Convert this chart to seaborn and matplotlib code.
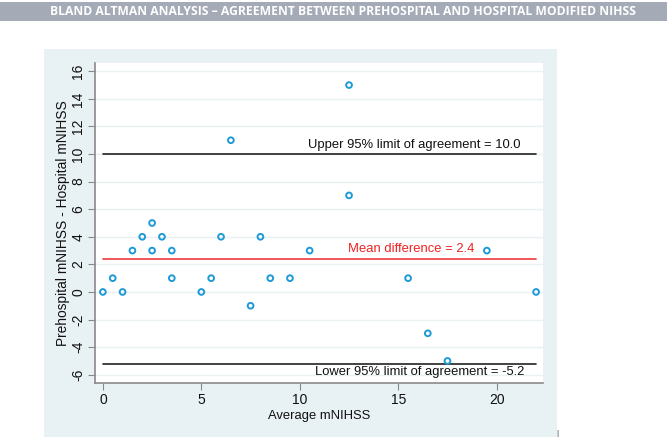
import matplotlib.pyplot as plt
import numpy as np
import pandas as pd
import seaborn as sns
from matplotlib.patches import Rectangle

avg_mnihss = [0, 0.5, 1, 1.5, 2, 2.5, 2.5, 3, 3.5, 3.5, 5, 5.5, 6, 6.5, 7.5, 8,
              8.5, 9.5, 10.5, 12.5, 12.5, 15.5, 16.5, 17.5, 19.5, 22]
diff_mnihss = [0, 1, 0, 3, 4, 5, 3, 4, 3, 1, 0, 1, 4, 11, -1, 4,
               1, 1, 3, 15, 7, 1, -3, -5, 3, 0]
mean_diff = 2.4
upper_loa = 10.0
lower_loa = -5.2
y_ticks = [-6, -4, -2, 0, 2, 4, 6, 8, 10, 12, 14, 16]
x_ticks = [0, 5, 10, 15, 20]

df = pd.DataFrame({'avg': avg_mnihss, 'diff': diff_mnihss})

sns.set_style('white')
plt.rcParams['font.family'] = ['Liberation Sans', 'DejaVu Sans']

fig = plt.figure(figsize=(6.69, 4.40), dpi=100)

# title banner and light panel behind the graph
fig.patches.append(Rectangle((0, 1 - 21 / 440), 667 / 669, 19 / 440, transform=fig.transFigure,
                             facecolor='#a4aab6', edgecolor='none', zorder=-10))
fig.patches.append(Rectangle((44 / 669, 3 / 440), 513 / 669, 388 / 440, transform=fig.transFigure,
                             facecolor='#e8f1f3', edgecolor='none', zorder=-10))
fig.text(343 / 669, 1 - 11.5 / 440, 'BLAND ALTMAN ANALYSIS – AGREEMENT BETWEEN PREHOSPITAL AND HOSPITAL MODIFIED NIHSS',
         ha='center', va='center', color='white', fontsize=8.7, fontweight='bold',
         family=['Open Sans', 'DejaVu Sans'])

ax = fig.add_axes([95 / 669, 57 / 440, 448 / 669, 320 / 440])
ax.set_facecolor('white')

for yv in y_ticks:
    ax.axhline(yv, color='#eaf1f4', lw=1, zorder=0)

x_lo, x_hi = min(avg_mnihss), max(avg_mnihss)
ax.plot([x_lo, x_hi], [upper_loa, upper_loa], color='#222222', lw=1.2, zorder=1)
ax.plot([x_lo, x_hi], [lower_loa, lower_loa], color='#222222', lw=1.2, zorder=1)
ax.plot([x_lo, x_hi], [mean_diff, mean_diff], color='#ee3a3a', lw=1.2, zorder=1)

sns.scatterplot(data=df, x='avg', y='diff', ax=ax, marker='o', s=17,
                facecolors='none', edgecolor='#1f9ad6', linewidth=1.4, zorder=3)

ax.text(21.2, upper_loa + 0.25, f'Upper 95% limit of agreement = {upper_loa:.1f}',
        ha='right', va='bottom', fontsize=9.4, color='#111111')
ax.text(18.85, mean_diff + 0.25, f'Mean difference = {mean_diff:.1f}',
        ha='right', va='bottom', fontsize=9.4, color='#ee2222')
ax.text(21.4, lower_loa - 0.15, f'Lower 95% limit of agreement = {lower_loa:.1f}',
        ha='right', va='top', fontsize=9.4, color='#111111')

ax.set_xlim(-0.4, 22.35)
ax.set_ylim(-6.6, 16.6)
ax.set_xticks(x_ticks)
ax.set_yticks(y_ticks)
ax.set_yticklabels([str(v) for v in y_ticks], rotation=90, va='center')
ax.tick_params(axis='both', direction='out', length=5, color='#888888', labelsize=10,
               labelcolor='#111111', left=True, bottom=True, pad=2)
ax.set_xlabel('Average mNIHSS', fontsize=9.4, color='#111111', labelpad=2)
ax.set_ylabel('Prehospital mNIHSS - Hospital mNIHSS', fontsize=9.9, color='#111111', labelpad=1)

for side in ['top', 'right']:
    ax.spines[side].set_visible(False)
for side in ['left', 'bottom']:
    ax.spines[side].set_color('#8a8a8a')
    ax.spines[side].set_linewidth(1.2)

fig.text(557 / 669, 1 - 433 / 440, '|', ha='center', va='center', fontsize=6, color='#333333')

fig.savefig('out.png', dpi=100)
